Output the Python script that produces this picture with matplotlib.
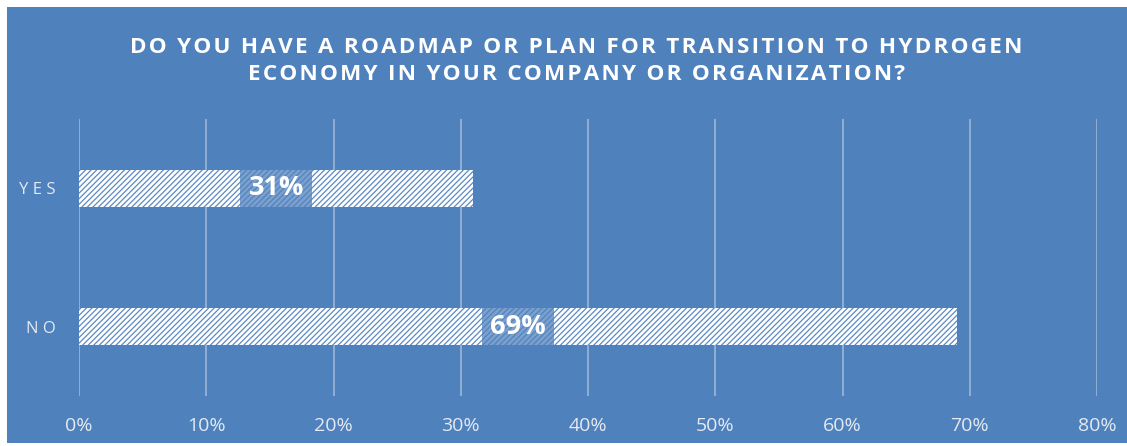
import matplotlib.pyplot as plt
from matplotlib.patches import Rectangle
from matplotlib.ticker import PercentFormatter

# -----------------------------
# Data
# -----------------------------
categories = ["NO", "YES"]
shares = [0.69, 0.31]
x_ticks = [0.0, 0.1, 0.2, 0.3, 0.4, 0.5, 0.6, 0.7, 0.8]
title_lines = ["DO YOU HAVE A ROADMAP OR PLAN FOR TRANSITION TO HYDROGEN",
               "ECONOMY IN YOUR COMPANY OR ORGANIZATION?"]

BLUE = "#4F81BD"
GRID = "#9DB5D8"
LIGHT = "#E4E9F2"
FONTS = ["Open Sans", "DejaVu Sans"]
BAR_H = 0.27


def spaced(s, sep="\u200a"):
    # crude letter spacing
    return sep.join(s)


W, H = 1127, 446
fig = plt.figure(figsize=(W / 100, H / 100), dpi=100, facecolor="white")

# blue chart area (leaves thin white margin at left / top / bottom)
fig.patches.append(Rectangle((7 / W, 3 / H), 1 - 7 / W, (H - 10) / H,
                             transform=fig.transFigure, facecolor=BLUE,
                             edgecolor="none", zorder=-10))

ax = fig.add_axes([79 / W, 50 / H, 1018 / W, 277 / H])
ax.set_facecolor("none")

plt.rcParams["hatch.linewidth"] = 0.9
y_pos = list(range(len(categories)))
bars = ax.barh(y_pos, shares, height=BAR_H, facecolor="white",
               edgecolor="#5B8AC4", linewidth=0, hatch="//////", zorder=3)

# value labels on a translucent blue box spanning the bar height
box_w = 72 / 1018 * 0.8
for b, v in zip(bars, shares):
    cx = b.get_width() / 2
    cy = b.get_y() + b.get_height() / 2
    ax.add_patch(Rectangle((cx - box_w / 2, b.get_y()), box_w, b.get_height(),
                           facecolor=BLUE, edgecolor="none", alpha=0.75,
                           zorder=4))
    ax.text(cx, cy, f"{v:.0%}", ha="center", va="center", color="white",
            fontsize=19.5, fontweight="bold", family=FONTS, zorder=5)

ax.set_xlim(0, 0.8)
ax.set_ylim(-0.5, 1.5)
ax.set_xticks(x_ticks)
ax.xaxis.set_major_formatter(PercentFormatter(1.0, decimals=0))
ax.set_yticks(y_pos)
ax.set_yticklabels([spaced(c, " ") for c in categories])
ax.tick_params(axis="x", length=0, pad=15, labelsize=14, labelcolor=LIGHT)
ax.tick_params(axis="y", length=0, pad=17, labelsize=12, labelcolor=LIGHT)
for lbl in ax.get_xticklabels() + ax.get_yticklabels():
    lbl.set_family(FONTS)

ax.grid(axis="x", color=GRID, linewidth=1.2, zorder=1)
for s in ax.spines.values():
    s.set_visible(False)

fig.text(576 / W, 1 - 61 / H, "\n".join(spaced(t) for t in title_lines),
         ha="center", va="center", color="white", fontsize=16.2,
         fontweight="bold", family=FONTS, linespacing=1.35)

fig.savefig("out.png", dpi=100, facecolor="white")
